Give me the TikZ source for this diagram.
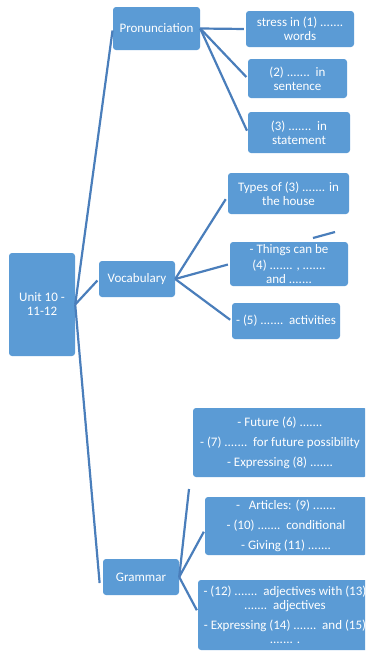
\documentclass[tikz,border=0pt]{standalone}
\usepackage{fontspec}
\setmainfont{Carlito}
\usetikzlibrary{calc}
\definecolor{boxblue}{HTML}{5B9BD5}
\definecolor{lineblue}{HTML}{4A7EBB}
\tikzset{
  box/.style={draw=none, fill=boxblue, rounded corners=3pt, text=white, align=center,
    inner sep=0pt, font=\fontsize{13}{14}\selectfont},
  conn/.style={draw=lineblue, line width=2.2pt, shorten >=2pt}
}
\begin{document}
\begin{tikzpicture}[x=1pt,y=-1pt]
\useasboundingbox (0,0) rectangle (365,651);
\clip (0,0) rectangle (365,651);
% nodes
\node[box, minimum width=66pt, minimum height=103pt] (unit) at (42,304.5) {Unit 10 -\\11-12};
\node[box, minimum width=87pt, minimum height=43pt] (pron) at (156.5,28.5) {Pronunciation};
\node[box, minimum width=108pt, minimum height=36pt] (stress) at (300,29) {stress in (1) .......\\words};
\node[box, minimum width=99pt, minimum height=39pt] (ptwo) at (297.5,78.5) {(2) .......\ \ in\\sentence};
\node[box, minimum width=102pt, minimum height=41pt] (pthree) at (299,132.5) {(3) .......\ \ in\\statement};
\node[box, minimum width=76pt, minimum height=36pt] (vocab) at (137,279) {Vocabulary};
\node[box, minimum width=121pt, minimum height=41pt] (types) at (288.5,193.5) {Types of (3) ....... in\\the house};
\node[box, minimum width=118pt, minimum height=44pt] (things) at (289,264) {- Things can be\\[2pt](4) ....... , .......\\and .......};
\node[box, minimum width=108pt, minimum height=36pt] (vfive) at (286,321) {- (5) .......\ \ activities};
\node[box, minimum width=76pt, minimum height=36pt] (gram) at (141,577) {Grammar};
\node[box, minimum width=174pt, minimum height=69pt] (future) at (280,442.5) {- Future (6) .......\\[6pt]- (7) .......\ \ for future possibility\\[6pt]- Expressing (8) .......};
\node[box, minimum width=162pt, minimum height=58pt] (art) at (286,526) {-\ \ \ Articles: (9) .......\\[6pt]- (10) .......\ \ conditional\\[6pt]- Giving (11) .......};
\node[box, minimum width=174pt, minimum height=70pt] (adj) at (285,615) {- (12) .......\ \ adjectives with (13)\\.......\ \ adjectives\\[6pt]- Expressing (14) .......\ \ and (15)\\....... .};
% coordinates
\coordinate (gf) at (189,489);
\coordinate (stA) at (313,238);
\coordinate (stB) at (335,232);
% connectors
\draw[conn] (unit.east) -- (pron.west);
\draw[conn] (unit.east) -- (vocab.west);
\draw[conn] (unit.east) -- ($(gram.west)+(-3,8)$);
\draw[conn] (pron.east) -- (stress.west);
\draw[conn] (pron.east) -- (ptwo.west);
\draw[conn] (pron.east) -- (pthree.west);
\draw[conn] (vocab.east) -- ($(types.west)+(-1,4)$);
\draw[conn] (vocab.east) -- (things.west);
\draw[conn] (vocab.east) -- (vfive.west);
\draw[conn, shorten >=0pt] (gram.east) -- (gf);
\draw[conn] (gram.east) -- ($(art.west)+(0,4)$);
\draw[conn] (gram.east) -- ($(adj.west)+(0,-3)$);
\draw[conn, shorten >=0pt] (stA) -- (stB);
\end{tikzpicture}
\end{document}
